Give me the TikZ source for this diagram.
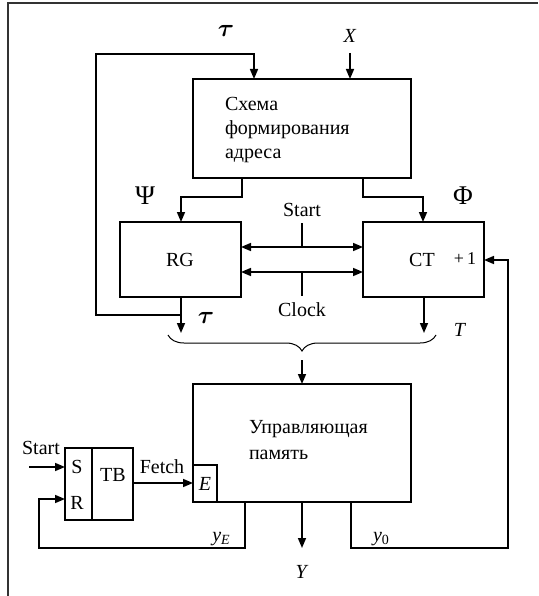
\documentclass[tikz,border=0pt]{standalone}
\usepackage{bm}
\usepackage{fontspec}
\setmainfont{Liberation Serif}
\usetikzlibrary{arrows.meta,decorations.pathreplacing}
\newcommand{\subsc}[1]{\raisebox{-0.3ex}{\fontsize{14}{14}\selectfont #1}}
\begin{document}
\begin{tikzpicture}[x=1pt,y=-1pt,
  line width=1.6pt,
  >={Triangle[length=10pt,width=8pt]},
  every node/.style={font=\fontsize{20}{24}\selectfont, inner sep=0pt, outer sep=0pt},
  blk/.style={draw, rectangle, line width=1.6pt},
  greek/.style={font=\fontsize{27}{30}\selectfont}
]
\useasboundingbox (0,0) rectangle (538,596);

% frame
\draw[line width=1.4pt, black!80] (8,596) -- (8,3) -- (538,3);

% blocks
\node[blk, minimum width=218pt, minimum height=99pt] (addr) at (302,128.5) {};
\node[anchor=west, align=left] (addrtxt) at (225,130) {Схема\\формирования\\адреса};

\node[blk, minimum width=121pt, minimum height=75pt] (rg) at (180.5,259.5) {};
\node (rgtxt) at (180,260) {RG};
\node[blk, minimum width=121pt, minimum height=75pt] (ct) at (423.5,259.5) {};
\node (cttxt) at (422,260) {CT};
\node[font=\fontsize{18}{20}\selectfont] (plusone) at (465,259) {+\,1};

\node[blk, minimum width=218pt, minimum height=118pt] (mem) at (302,443) {};
\node[anchor=west, align=left, font=\fontsize{20}{26}\selectfont] (memtxt) at (249,440) {Управляющая\\память};
\node[blk, minimum width=24pt, minimum height=37pt] (ebox) at (205,483.5) {};
\node (etxt) at (205,484) {\textit{E}};

\node[blk, minimum width=27pt, minimum height=72pt] (sr) at (78.5,484) {};
\node[blk, minimum width=41pt, minimum height=72pt] (tb) at (112.5,484) {};
\node (stxt) at (77,467) {S};
\node (rtxt) at (77,503) {R};
\node (tbtxt) at (113,475) {TB};

% labels
\node[greek] (tautop) at (226,31) {$\bm{\tau}$};
\node (xlbl) at (350,36) {\textit{X}};
\node[greek] (psi) at (145,196) {Ψ};
\node[greek] (phi) at (463,196) {Φ};
\node (startlbl) at (302,210) {Start};
\node (clocklbl) at (302,310) {Clock};
\node[greek] (taubot) at (206,318) {$\bm{\tau}$};
\node (tlbl) at (460,330) {\textit{T}};
\node (start2) at (41,448) {Start};
\node (fetch) at (162,467) {Fetch};
\node (ye) at (221,539) {\textit{y}\subsc{\textit{E}}};
\node (yzero) at (381,539) {\textit{y}\subsc{0}};
\node (ylbl) at (302,572) {\textit{Y}};

% coordinates of junctions and free ends
\coordinate (xin) at (350,53);
\coordinate (fbtop) at (96,54);
\coordinate (fbjoin) at (181,315);
\coordinate (rgout) at (181,333);
\coordinate (ctout) at (424,333);
\coordinate (lsplit) at (242,197);
\coordinate (rsplit) at (363,197);
\coordinate (bracel) at (168,335);
\coordinate (bracer) at (436,335);
\coordinate (bracetip) at (302,360);
\coordinate (yout) at (302,548);
\coordinate (yeb) at (245,548);
\coordinate (yel) at (39,548);
\coordinate (y0b) at (351,548);
\coordinate (y0r) at (508,548);
\coordinate (startin) at (29,467);

% address block inputs
\draw[->] (fbjoin) -| (fbtop) -| (addr.north -| 254,0);
\draw[->] (xin) -- (addr.north -| xin);

% address block outputs
\draw[->] (addr.south -| lsplit) -- (lsplit) -| (rg.north -| 181,0);
\draw[->] (addr.south -| rsplit) -- (rsplit) -| (ct.north -| 423,0);

% Start / Clock buses
\draw[<->] (rg.east |- 0,247) -- (ct.west |- 0,247);
\draw[<->] (rg.east |- 0,272) -- (ct.west |- 0,272);
\draw (startlbl.south |- 0,223) -- (startlbl.south |- 0,247);
\draw (clocklbl.north |- 0,272) -- (clocklbl.north |- 0,296);

% register / counter outputs
\draw[->] (rg.south -| rgout) -- (rgout);
\draw[->] (ct.south -| ctout) -- (ctout);

% brace collecting tau and T
\draw[line width=1pt, decorate, decoration={brace, mirror, amplitude=16pt}] (bracel) -- (bracer);
\draw[->] (bracetip) -- (mem.north);

% memory outputs
\draw[->] (mem.south) -- (yout);
\draw[->] (mem.south -| yeb) -- (yeb) -- (yel) |- (sr.west |- 0,499);
\draw[->] (mem.south -| y0b) -- (y0b) -- (y0r) |- (ct.east |- 0,260);

% trigger connections
\draw[->] (startin) -- (sr.west |- startin);
\draw[->] (tb.east |- 0,483) -- (ebox.west |- 0,483);
\end{tikzpicture}
\end{document}
